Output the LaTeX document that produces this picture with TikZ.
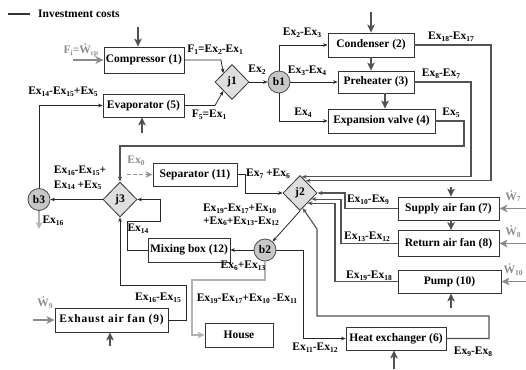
\documentclass[tikz,border=0pt]{standalone}
\usepackage{fontspec}
\setmainfont{Liberation Serif}
\usetikzlibrary{shapes.geometric,arrows.meta}

% small lowered index for exergy symbols
\newcommand\sub[1]{\raisebox{-0.35ex}{\fontsize{7.5}{7.5}\selectfont #1}}
% W with a dot above (power)
\newcommand\Wdot{Ẇ}

\begin{document}
\begin{tikzpicture}[x=1pt,y=-1pt,
  font=\bfseries\fontsize{11.5}{12.5}\selectfont,
  box/.style={draw=black!80, line width=0.8pt, fill=white, inner sep=0pt},
  jn/.style={diamond, draw=black!80, fill=black!13, line width=0.8pt,
             minimum width=34pt, minimum height=35pt, inner sep=0pt},
  bn/.style={circle, draw=black!70, fill=black!22, line width=0.8pt,
             minimum size=22pt, inner sep=0pt},
  lbl/.style={inner sep=0pt},
  gtxt/.style={inner sep=0pt, text=black!45},
  flow/.style={draw=black!85, line width=0.8pt, -{Stealth[length=4.5pt,width=3.6pt]}},
  ret/.style={draw=black!68, line width=1.1pt, -{Stealth[length=5pt,width=4pt]}},
  inv/.style={draw=black!68, line width=2pt, -{Stealth[length=8pt,width=7.5pt,inset=2pt]}},
  pwr/.style={draw=black!45, line width=1.8pt, -{Stealth[length=8pt,width=7.5pt,inset=2pt]}},
  hpath/.style={draw=black!30, line width=1.6pt, -{Stealth[length=7pt,width=6.5pt,inset=2pt]}},
  ex0arrow/.style={draw=black!42, line width=1.4pt, dash pattern=on 3.5pt off 2.5pt,
             -{Stealth[length=7pt,width=6.5pt,inset=2pt]}},
  legline/.style={draw=black!80, line width=1.8pt}]

\useasboundingbox (0,0) rectangle (526,369);

% ---------- legend ----------
\coordinate (lg1) at (8,14);
\coordinate (lg2) at (30,14);
\draw[legline] (lg1) -- (lg2);
\node[lbl, anchor=west] (legtxt) at (38,14) {Investment costs};

% ---------- components ----------
\node[box, minimum width=80pt, minimum height=26pt] (comp) at (144,60) {Compressor (1)};
\node[box, minimum width=81pt, minimum height=23pt] (evap) at (143.5,105.5) {Evaporator (5)};
\node[box, minimum width=86pt, minimum height=24pt] (cond) at (371,45) {Condenser (2)};
\node[box, minimum width=76pt, minimum height=22pt] (preh) at (376,82) {Preheater (3)};
\node[box, minimum width=107pt, minimum height=24pt] (expv) at (381.5,121) {Expansion valve (4)};
\node[box, minimum width=84pt, minimum height=23pt] (sep) at (195,174.5) {Separator (11)};
\node[box, minimum width=82pt, minimum height=24pt] (mix) at (189,250) {Mixing box (12)};
\node[box, minimum width=101pt, minimum height=23pt] (saf) at (448.5,208.5) {Supply air fan (7)};
\node[box, minimum width=101pt, minimum height=26pt] (raf) at (448.5,243.5) {Return air fan (8)};
\node[box, minimum width=103pt, minimum height=23pt] (pump) at (449.5,281.5) {Pump (10)};
\node[box, minimum width=100pt, minimum height=23pt] (hx) at (396,338.5) {Heat exchanger (6)};
\node[box, minimum width=113pt, minimum height=24pt] (exh) at (111.5,320) {\addfontfeature{LetterSpace=7}Exhaust air fan (9)};
\node[box, minimum width=68pt, minimum height=24pt] (house) at (239,335) {House};

% junctions and branches
\node[jn] (j1) at (232,82) {j1};
\node[jn] (j2) at (300,193) {j2};
\node[jn] (j3) at (120,199.5) {j3};
\node[bn] (b1) at (279,82) {b1};
\node[bn] (b2) at (265,250) {b2};
\node[bn] (b3) at (39,199.5) {b3};

% ---------- investment cost inputs ----------
\coordinate (ic1) at (138,27);
\draw[inv] (ic1) -- (ic1 |- comp.north);
\coordinate (ic2) at (371,12);
\draw[inv] (ic2) -- (ic2 |- cond.north);
\draw[inv] (cond.south) -- (cond.south |- preh.north);
\draw[inv] ([xshift=9pt]preh.south) -- ([xshift=9pt]preh.south |- expv.north);
\coordinate (ie) at (142,133);
\draw[inv] (ie) -- (ie |- evap.south);
\coordinate (ic7) at (451,187);
\draw[inv] (ic7) -- (ic7 |- saf.north);
\draw[inv] ([xshift=2.5pt]saf.south) -- ([xshift=2.5pt]saf.south |- raf.north);
\coordinate (ip) at (451,308);
\draw[inv] (ip) -- (ip |- pump.south);
\coordinate (ih) at (394,369);
\draw[inv] (ih) -- (ih |- hx.south);
\coordinate (ix) at (110,346);
\draw[inv] (ix) -- (ix |- exh.south);

% ---------- power inputs ----------
\coordinate (fin) at (73,60);
\draw[pwr] (fin) -- (comp.west);
\coordinate (w7) at (526,208.5);
\draw[pwr] (w7) -- (saf.east);
\coordinate (w8) at (526,243.5);
\draw[pwr] (w8) -- (raf.east);
\coordinate (w10) at (526,281.5);
\draw[pwr] (w10) -- (pump.east);
\coordinate (w9) at (33,320);
\draw[pwr] (w9) -- (exh.west);
\coordinate (ex0) at (127,174.5);
\draw[ex0arrow] (ex0) -- (sep.west);

% ---------- refrigerant loop ----------
\draw[flow] (comp.east) -- (221,60) -- (j1.north west);
\draw[flow] (evap.east) -- (215,105.5) -- (j1.south west);
\draw[flow] (j1.east) -- (b1.west);
\draw[flow] (b1.north) |- (cond.west);
\draw[flow] (b1.east) -- (preh.west);
\draw[flow] (b1.south) |- (expv.west);

% products returned to j2 / j3
\coordinate (cv) at (491,45);
\draw[ret] (cond.east) -- (cv) -- (cv |- j2.66) -- (j2.66);
\coordinate (pv) at (471,82);
\draw[ret] (preh.east) -- (pv) -- (pv |- j2.84) -- (j2.84);
\draw[ret] (expv.east) -- (464,121) -- (464,146) -- (120,146) -- (j3.north);

\draw[flow] (sep.east) -- (245,174.5) -- (245,193) -- (j2.west);
\draw[ret] (saf.west) -- (345,208.5) -- (345,193) -- (j2.east);
\coordinate (rv) at (341,243.5);
\draw[ret] (raf.west) -- (rv) -- (rv |- j2.-28) -- (j2.-28);
\coordinate (pmv) at (335,281.5);
\draw[ret] (pump.west) -- (pmv) -- (pmv |- j2.-54) -- (j2.-54);
\draw[ret] (hx.east) -- (489,338.5) -- (489,316) -- (317,316) -- (317,229) -- (j2.-80);

% ---------- air side ----------
\draw[flow] (j2.south) -- (b2);
\draw[flow] (b2.west) -- (mix.east);
\draw[flow] (b2.east) -- (303,250) |- (hx.west);
\draw[hpath] (b2.south) -- (265,280) -- (192,280) |- (house.west);
\draw[flow] (mix.west) -- (127,250) -- (127,221) -- (160,221) -- (160,199.5) -- (j3.east);
\draw[flow] (exh.east) -- (186,320) -- (186,285) -- (120,285) -- (j3.south);
\draw[flow] (j3.west) -- (b3.east);
\draw[flow] (b3.north) |- (evap.west);
\coordinate (b3out) at (39,229);
\draw[hpath] (b3.south) -- (b3out);

% ---------- labels ----------
\node[lbl] (lF1) at (215,50) {F\sub{1}=Ex\sub{2}-Ex\sub{1}};
\node[lbl] (lF5) at (209,115) {F\sub{5}=Ex\sub{1}};
\node[lbl] (lEx2) at (257,70) {Ex\sub{2}};
\node[lbl] (l23) at (302,33) {Ex\sub{2}-Ex\sub{3}};
\node[lbl] (l34) at (307,71) {Ex\sub{3}-Ex\sub{4}};
\node[lbl] (l4) at (303,113) {Ex\sub{4}};
\node[lbl] (l1817) at (451,37) {Ex\sub{18}-Ex\sub{17}};
\node[lbl] (l87) at (441,74) {Ex\sub{8}-Ex\sub{7}};
\node[lbl] (l5) at (451,113) {Ex\sub{5}};
\node[lbl] (l1415) at (63,92) {Ex\sub{14}-Ex\sub{15}+Ex\sub{5}};
\node[gtxt] (lFi) at (81,50) {F\sub{i}=\Wdot\sub{cp}};
\node[lbl] (l76) at (268,174) {Ex\sub{7} +Ex\sub{6}};
\node[gtxt] (lEx0) at (136,161) {Ex\sub{0}};
\node[lbl, align=left] (lb3) at (80,178) {Ex\sub{16}-Ex\sub{15}+\\[2pt]Ex\sub{14} +Ex\sub{5}};
\node[lbl] (l16) at (53,221) {Ex\sub{16}};
\node[lbl] (l14) at (138,229) {Ex\sub{14}};
\node[lbl, align=left] (lj2) at (241,215) {Ex\sub{19}-Ex\sub{17}+Ex\sub{10}\\+Ex\sub{6}+Ex\sub{13}-Ex\sub{12}};
\node[lbl] (l613) at (243,266) {Ex\sub{6}+Ex\sub{13}};
\node[lbl] (lhouse) at (247,299) {Ex\sub{19}-Ex\sub{17}+Ex\sub{10} -Ex\sub{11}};
\node[lbl] (l1615) at (158,298) {Ex\sub{16}-Ex\sub{15}};
\node[lbl] (l1112) at (315,348) {Ex\sub{11}-Ex\sub{12}};
\node[lbl] (l98) at (473,352) {Ex\sub{9}-Ex\sub{8}};
\node[lbl] (l109) at (368,200) {Ex\sub{10}-Ex\sub{9}};
\node[lbl] (l1312) at (367,237) {Ex\sub{13}-Ex\sub{12}};
\node[lbl] (l1918) at (369,276) {Ex\sub{19}-Ex\sub{18}};
\node[gtxt] (lw7) at (513,196) {\Wdot\sub{7}};
\node[gtxt] (lw8) at (513,232) {\Wdot\sub{8}};
\node[gtxt] (lw10) at (513,270) {\Wdot\sub{10}};
\node[gtxt] (lw9) at (45,303) {\Wdot\sub{9}};
\end{tikzpicture}
\end{document}
